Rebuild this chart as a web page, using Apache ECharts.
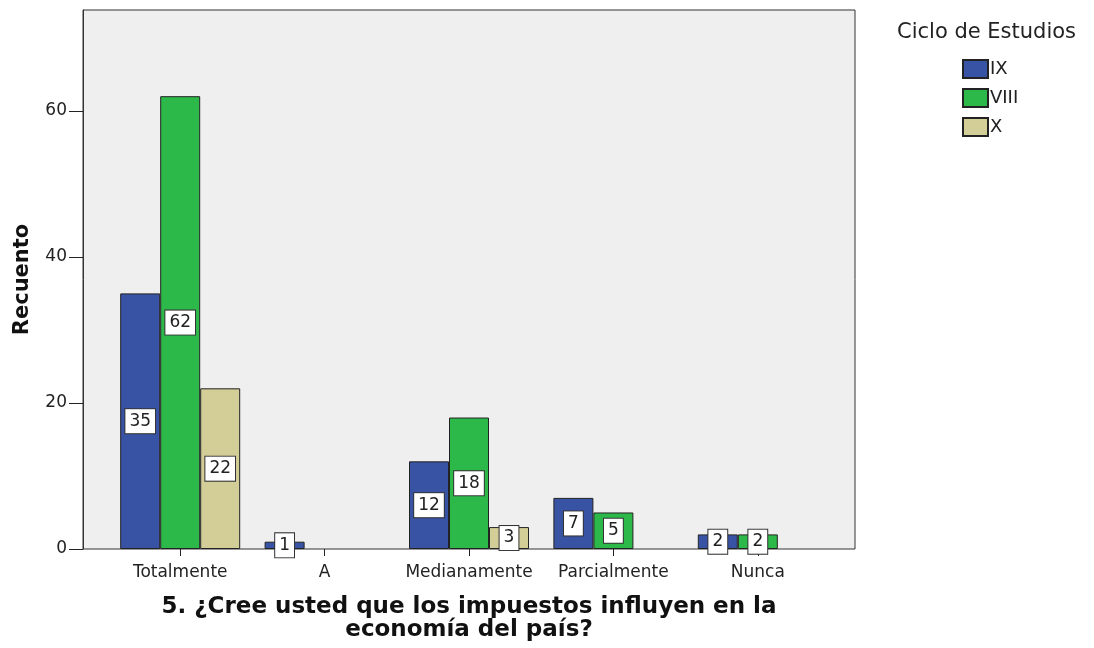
<!DOCTYPE html>
<html>
<head>
<meta charset="utf-8">
<script src="https://cdn.jsdelivr.net/npm/echarts@6/dist/echarts.min.js"></script>
<style>
  html, body { margin: 0; padding: 0; background: #fff; }
  #chart { width: 1094px; height: 648px; }
</style>
</head>
<body>
<div id="chart"></div>
<script>
  // categorías y conteos
  const CATS = ['Totalmente', 'A', 'Medianamente', 'Parcialmente', 'Nunca'];
  const IX = [35, 1, 12, 7, 2];
  const VIII = [62, null, 18, 5, 2];
  const X = [22, null, 3, null, null];
  const Y_TICKS = [0, 20, 40, 60];
  const Y_MAX = 73.8;

  const FONT = '"DejaVu Sans", Verdana, sans-serif';
  const EDGE = '#222';

  function barSeries(name, data, color) {
    return {
      name: name,
      type: 'bar',
      xAxisIndex: 1,
      yAxisIndex: 1,
      barWidth: 40,
      barGap: '0%',
      data: data,
      itemStyle: { color: color, borderColor: EDGE, borderWidth: 1 },
      label: {
        show: true,
        position: 'inside',
        fontFamily: FONT,
        fontSize: 17,
        color: '#222',
        backgroundColor: '#fff',
        borderColor: '#333',
        borderWidth: 1,
        padding: [4, 4, 3, 4],
        formatter: function (p) { return p.value; }
      }
    };
  }

  const chart = echarts.init(document.getElementById('chart'));
  chart.setOption({
    animation: false,
    backgroundColor: '#fff',
    title: {
      text: 'Ciclo de Estudios',
      left: 897,
      top: 22,
      padding: 0,
      textStyle: { fontFamily: FONT, fontSize: 21, fontWeight: 'normal', color: '#222' }
    },
    legend: {
      orient: 'vertical',
      left: 962,
      top: 59,
      padding: 0,
      itemWidth: 25,
      itemHeight: 18,
      itemGap: 9,
      icon: 'rect',
      textStyle: { fontFamily: FONT, fontSize: 18, color: '#222', padding: [0, 0, 0, -3] },
      data: ['IX', 'VIII', 'X']
    },
    grid: [
      { left: 83, right: 239, top: 10, bottom: 99, show: true, backgroundColor: '#efefef', borderColor: '#333', borderWidth: 1 },
      { left: 108, right: 264, top: 10, bottom: 99 }
    ],
    xAxis: [
      { type: 'value', gridIndex: 0, show: false, min: 0, max: 1 },
      {
        type: 'category',
        gridIndex: 1,
        data: CATS,
        axisLine: { show: false },
        axisTick: { show: true, interval: 0, alignWithLabel: true, length: 7, lineStyle: { color: '#222' } },
        axisLabel: { interval: 0, hideOverlap: false, fontFamily: FONT, fontSize: 17, color: '#222', margin: 15 },
        name: '5. ¿Cree usted que los impuestos influyen en la\neconomía del país?',
        nameLocation: 'middle',
        nameGap: 47,
        nameTextStyle: { fontFamily: FONT, fontSize: 23, fontWeight: 'bold', color: '#111', lineHeight: 23 }
      }
    ],
    yAxis: [
      {
        type: 'value',
        gridIndex: 0,
        min: 0,
        max: Y_MAX,
        axisLine: { show: true, lineStyle: { color: '#333' } },
        axisTick: { show: true, length: 14, customValues: Y_TICKS, lineStyle: { color: '#222' } },
        splitLine: { show: false },
        axisLabel: { fontFamily: FONT, fontSize: 17, color: '#222', margin: 16, customValues: Y_TICKS },
        name: 'Recuento',
        nameLocation: 'middle',
        nameGap: 50,
        nameTextStyle: { fontFamily: FONT, fontSize: 21, fontWeight: 'bold', color: '#111' }
      },
      { type: 'value', gridIndex: 1, min: 0, max: Y_MAX, show: false }
    ],
    series: [
      barSeries('IX', IX, '#3953a4'),
      barSeries('VIII', VIII, '#2db84a'),
      barSeries('X', X, '#d3ce97')
    ]
  });
</script>
</body>
</html>
